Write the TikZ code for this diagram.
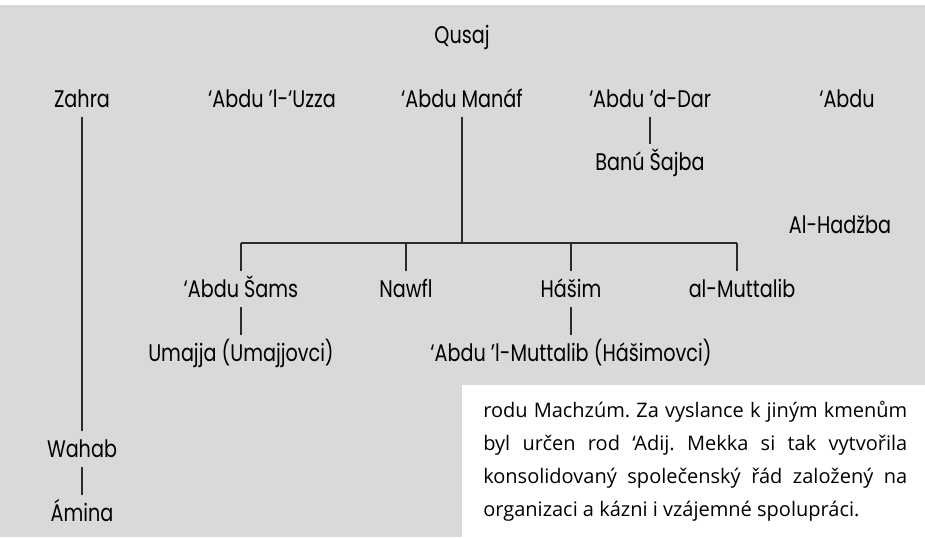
\documentclass[tikz,border=0pt]{standalone}
\usepackage{fontspec}
\newfontfamily\treefont[FakeStretch=0.8]{Poppins}
\newfontfamily\bodyfont{Open Sans}
\definecolor{panelgray}{HTML}{D9D9D9}
\definecolor{linegray}{HTML}{2A2A2A}
\frenchspacing
\begin{document}
\begin{tikzpicture}[x=0.75pt,y=-0.75pt,
  person/.style={font=\treefont\fontsize{18}{21}\selectfont, text height=12.75pt, text depth=0pt,
                 inner xsep=2pt, inner ysep=7pt},
  kin/.style={draw=linegray, line width=0.8pt}]
\useasboundingbox (0,0) rectangle (925,537);
\fill[white] (0,0) rectangle (925,537);
\fill[panelgray] (0,5) rectangle (925,537);

% first generation
\node[person] (qusaj) at (462,35) {Qusaj};
\node[person] (zahra) at (82,99) {Zahra};
\node[person] (uzza) at (272,99) {‘Abdu ’l-‘Uzza};
\node[person] (manaf) at (462,99) {‘Abdu Manáf};
\node[person] (dar) at (650,99) {‘Abdu ’d-Dar};
\node[person] (abdu) at (847,99) {‘Abdu};
\node[person] (sajba) at (650,162) {Banú Šajba};
\node[person] (hadzba) at (840,225) {Al-Hadžba};

% sons of 'Abdu Manaf
\node[person] (sams) at (241,289) {‘Abdu Šams};
\node[person] (nawfal) at (406,289) {Nawfl};
\node[person] (hasim) at (571,289) {Hášim};
\node[person] (muttalib) at (742,289) {al-Muttalib};
\node[person] (umajja) at (241,353) {Umajja (Umajjovci)};
\node[person] (abdmut) at (571,353) {‘Abdu ’l-Muttalib (Hášimovci)};

% line of Zahra
\node[person] (wahab) at (82,449) {Wahab};
\node[person] (amina) at (82,513) {Ámina};

% connectors
\coordinate (bar) at (462,243);
\coordinate (barL) at (241,243);
\coordinate (barR) at (737,243);
\draw[kin] (zahra.south) -- (wahab.north);
\draw[kin] (wahab.south) -- (amina.north);
\draw[kin] (dar.south) -- (sajba.north);
\draw[kin] (manaf.south) -- (bar);
\draw[kin] (barL) -- (barR);
\draw[kin] (barL) -- (sams.north);
\draw[kin] (nawfal.north |- bar) -- (nawfal.north);
\draw[kin] (hasim.north |- bar) -- (hasim.north);
\draw[kin] (barR) -- (barR |- muttalib.north);
\draw[kin] (sams.south) -- (umajja.north);
\draw[kin] (hasim.south) -- (abdmut.north);

% text panel
\fill[white] (462,385) rectangle (925,537);
\node[anchor=north west, inner sep=0pt, align=left,
      font=\bodyfont\fontsize{15}{24.75}\selectfont] (body) at (483,401) {%
  \makebox[318pt][s]{rodu Machzúm. Za vyslance k jiným kmenům}\\
  \makebox[318pt][s]{byl určen rod ‘Adij. Mekka si tak vytvořila}\\
  \makebox[318pt][s]{konsolidovaný společenský řád založený na}\\
  organizaci a kázni i vzájemné spolupráci.};
\end{tikzpicture}
\end{document}
